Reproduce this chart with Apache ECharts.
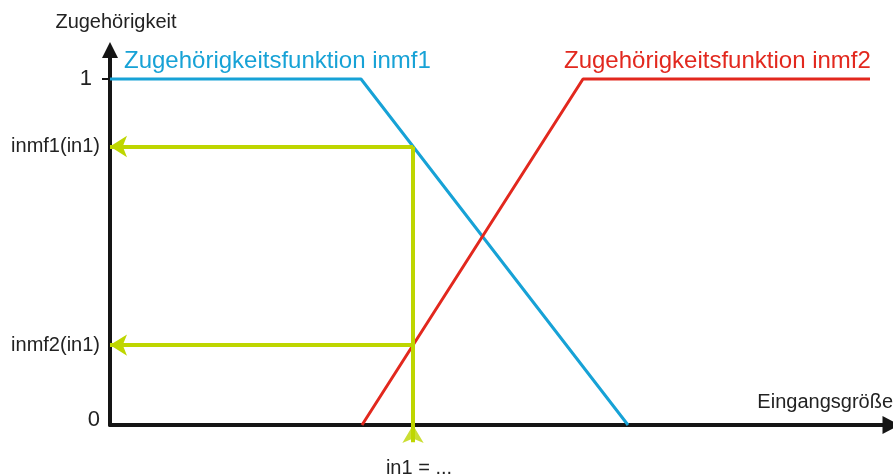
<!DOCTYPE html>
<html>
<head>
<meta charset="utf-8">
<script src="https://cdn.jsdelivr.net/npm/echarts@6/dist/echarts.min.js"></script>
<style>
html,body{margin:0;padding:0;background:#fff;}
#chart{width:893px;height:476px;}
</style>
</head>
<body>
<div id="chart"></div>
<script>
// ---- data ----
var inmf1X = [0, 251, 518];
var inmf1Y = [1, 1, 0];
var inmf2X = [252, 473, 760];
var inmf2Y = [0, 1, 1];
var in1 = 303;
var inmf1AtIn1 = 0.805;
var inmf2AtIn1 = 0.231;
var yTickLabels = { '0': '0', '1': '1' };
var seriesNames = ['Zugehörigkeitsfunktion inmf1', 'Zugehörigkeitsfunktion inmf2'];
var axisNames = ['Eingangsgröße', 'Zugehörigkeit'];
var in1Label = 'in1 = ...';
var levelLabels = ['inmf1(in1)', 'inmf2(in1)'];

function pairs(xs, ys) { return xs.map(function (x, i) { return [x, ys[i]]; }); }

var BLUE = '#17a2d6', RED = '#e2281e', GREEN = '#bed600', INK = '#151515';
var FONT = 'Liberation Sans, Arial, sans-serif';

var chart = echarts.init(document.getElementById('chart'));
chart.setOption({
  animation: false,
  backgroundColor: '#fff',
  textStyle: { fontFamily: FONT },
  grid: { left: 110, right: 2, top: 50, bottom: 51, containLabel: false, outerBoundsMode: 'none' },
  xAxis: {
    type: 'value', min: 0, max: 781,
    splitLine: { show: false },
    axisLine: { show: true, onZero: true, symbol: ['none', 'triangle'], symbolSize: [18, 17], lineStyle: { color: INK, width: 4 } },
    axisTick: { show: false },
    axisLabel: {
      show: true, customValues: [in1], margin: 33, color: '#222', fontSize: 20, fontFamily: FONT,
      padding: [0, 0, 0, 12],
      formatter: function () { return in1Label; }
    },
    name: axisNames[0], nameLocation: 'end', nameGap: 2,
    nameTextStyle: { color: '#222', fontSize: 20, fontFamily: FONT, align: 'right', verticalAlign: 'bottom', padding: [0, 0, 13, 0] }
  },
  yAxis: {
    type: 'value', min: 0, max: 1.0838,
    splitLine: { show: false },
    axisLine: { show: true, symbol: ['none', 'triangle'], symbolSize: [16, 16], lineStyle: { color: INK, width: 4 } },
    axisTick: { show: true, customValues: [1], length: 8, lineStyle: { color: INK, width: 2 } },
    axisLabel: {
      show: true, customValues: [0, inmf2AtIn1, inmf1AtIn1, 1], margin: 10, color: '#222', fontSize: 20, fontFamily: FONT,
      formatter: function (v) {
        if (v === 1) return '{one|' + yTickLabels['1'] + '}';
        if (v === 0) return '{zero|' + yTickLabels['0'] + '}';
        if (v === inmf1AtIn1) return levelLabels[0];
        return levelLabels[1];
      },
      rich: {
        one: { fontSize: 22, color: '#222', padding: [0, 8, 0, 0], fontFamily: FONT },
        zero: { fontSize: 22, color: '#222', padding: [0, 0, 10, 0], fontFamily: FONT }
      }
    },
    name: axisNames[1], nameLocation: 'end', nameGap: 18,
    nameTextStyle: { color: '#222', fontSize: 20, fontFamily: FONT, align: 'center', padding: [0, 0, 0, 12] }
  },
  graphic: [
    { type: 'text', left: 124, top: 49, style: { text: seriesNames[0], fill: BLUE, font: '24px ' + FONT } },
    { type: 'text', left: 564, top: 49, style: { text: seriesNames[1], fill: RED, font: '24px ' + FONT } }
  ],
  series: [
    {
      type: 'line', name: seriesNames[0], data: pairs(inmf1X, inmf1Y), symbol: 'none',
      lineStyle: { color: BLUE, width: 3 }, z: 3
    },
    {
      type: 'line', name: seriesNames[1], data: pairs(inmf2X, inmf2Y), symbol: 'none',
      lineStyle: { color: RED, width: 3 }, z: 3
    },
    {
      type: 'line', name: 'in1', data: [[in1, inmf1AtIn1], [in1, -0.05]], symbol: 'none', clip: false,
      lineStyle: { color: GREEN, width: 4 }, z: 4,
      markLine: {
        silent: true, animation: false,
        symbol: ['none', 'arrow'], symbolSize: [16, 17],
        label: { show: false },
        lineStyle: { color: GREEN, width: 4, type: 'solid' },
        data: [
          [{ coord: [in1, inmf1AtIn1] }, { coord: [0, inmf1AtIn1] }],
          [{ coord: [in1, inmf2AtIn1] }, { coord: [0, inmf2AtIn1] }]
        ]
      }
    },
    {
      type: 'scatter', data: [[in1, 0]], symbol: 'arrow', symbolSize: [16, 18], clip: false,
      itemStyle: { color: GREEN }, z: 5, silent: true
    }
  ]
});
</script>
</body>
</html>
